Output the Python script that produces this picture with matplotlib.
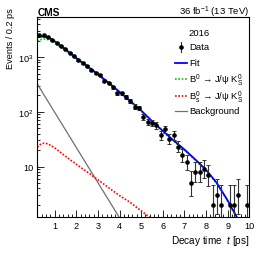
import numpy as np
import matplotlib
matplotlib.use('Agg')
import matplotlib.pyplot as plt
from matplotlib.ticker import MultipleLocator, LogLocator, NullFormatter, FuncFormatter
from matplotlib.lines import Line2D

plt.rcParams['font.family'] = ['Liberation Sans', 'DejaVu Sans']
plt.rcParams['mathtext.fontset'] = 'custom'
plt.rcParams['mathtext.rm'] = 'Liberation Sans'
plt.rcParams['mathtext.it'] = 'Liberation Sans:italic'
plt.rcParams['mathtext.bf'] = 'Liberation Sans:bold'

# ---- data (bin centres, counts per 0.2 ps) ----
t_data = [0.3, 0.5, 0.7, 0.9, 1.1, 1.3, 1.5, 1.7, 1.9, 2.1, 2.3, 2.5, 2.7, 2.9, 3.1,
          3.3, 3.5, 3.7, 3.9, 4.1, 4.3, 4.5, 4.7, 4.9, 5.1, 5.3, 5.5, 5.7, 5.9, 6.1,
          6.3, 6.5, 6.7, 6.9, 7.1, 7.3, 7.5, 7.7, 7.9, 8.1, 8.3, 8.5, 8.7, 9.1, 9.3,
          9.5, 9.9]
counts = [2500, 2500, 2300, 2100, 1820, 1600, 1440, 1217, 1030, 893, 778, 678, 590, 515, 465,
          371, 335, 281, 219, 219, 185, 155, 125, 118, 80, 66, 62, 57, 37, 48,
          32, 37, 23, 16, 12, 5, 8, 8, 9, 7, 2, 3, 2, 2, 2,
          3, 2]

# ---- fit curves ----
fit_t = [0.2, 0.3, 0.4, 0.5, 0.6, 0.8, 1.0, 1.25, 1.5, 2.0, 2.5, 3.0, 3.5, 4.0, 4.5,
         5.0, 5.5, 6.0, 6.5, 7.0, 7.5, 8.0, 8.5, 9.0, 9.5]
fit_v = [2300, 2350, 2380, 2380, 2350, 2200, 1960, 1650, 1400, 965, 690, 490, 340, 232, 157,
         106, 68, 45, 30, 20.5, 13.5, 8.7, 5.0, 2.4, 1.05]
b0_v = [1955, 2046, 2113, 2147, 2144, 2040, 1837, 1560, 1333, 929, 670, 478, 332, 226, 153,
        103, 66, 43.7, 29.2, 19.9, 13.1, 8.4, 4.85, 2.33, 1.02]
bs_t = [0.2, 0.3, 0.4, 0.5, 0.6, 0.7, 0.85, 1.0, 1.25, 1.5, 2.0, 2.5, 3.0, 3.5, 4.0,
        4.5, 5.0, 5.5, 6.0]
bs_v = [22.5, 24.8, 26.2, 26.7, 26.5, 25.8, 24.0, 22.0, 18.5, 15.4, 11.0, 8.0, 5.75, 4.1, 2.95,
        2.2, 1.55, 1.1, 0.8]
bg_t = [0.2, 4.2]
bg_v = [323, 0.86]

# Poisson (Gehrels) error bars
n = np.array(counts, dtype=float)
up = np.sqrt(n + 0.75) + 1.0
lo = n - n * (1 - 1 / (9 * n) - 1 / (3 * np.sqrt(n))) ** 3

fig = plt.figure(figsize=(2.66, 2.55), dpi=100)
ax = fig.add_axes([37.3 / 266, 1 - 217.7 / 255, 212 / 266, 199.7 / 255])

ax.plot(bg_t, bg_v, color='#707070', lw=0.9)
ax.plot(bs_t, bs_v, color='#ff0000', lw=1.2, ls=(0, (1, 1)))
ax.plot(fit_t, b0_v, color='#00cc00', lw=1.2, ls=(0, (1, 1)))
ax.plot(fit_t, fit_v, color='#0000ff', lw=1.3)
ax.errorbar(t_data, counts, yerr=[lo, up], fmt='o', color='black', ms=2.3,
            ecolor='#333333', elinewidth=0.8, capsize=1.2, capthick=0.7)

ax.set_xlim(0.2, 10.0)
ax.set_yscale('log')
ax.set_ylim(1.21, 5430)

ax.xaxis.set_major_locator(MultipleLocator(1))
ax.xaxis.set_minor_locator(MultipleLocator(0.2))
ax.yaxis.set_major_locator(LogLocator(base=10, numticks=10))
ax.yaxis.set_minor_locator(LogLocator(base=10, subs=np.arange(2, 10), numticks=20))
ax.yaxis.set_minor_formatter(NullFormatter())

def yfmt(v, pos):
    e = int(round(np.log10(v)))
    if e == 1:
        return '10'
    return r'$10^{%d}$' % e
ax.yaxis.set_major_formatter(FuncFormatter(yfmt))
ax.xaxis.set_major_formatter(FuncFormatter(lambda v, p: '%d' % round(v)))

ax.tick_params(which='both', direction='in', top=False, right=False, labelsize=6.6,
               width=0.6, colors='black')
ax.tick_params(which='major', length=5, pad=3)
ax.tick_params(which='minor', length=2.5)
for s in ax.spines.values():
    s.set_linewidth(0.8)

ax.set_xlabel(r'Decay time  $\it{t}$ [ps]', fontsize=7.2, ha='right', x=1.0, labelpad=2)
ax.set_ylabel('Events / 0.2 ps', fontsize=6.6, ha='right', y=1.05, labelpad=2)

fig.text(37.3 / 266, 1 - 13 / 255, 'CMS', fontsize=7.3, fontweight='bold', ha='left', va='center')
fig.text(249.5 / 266, 1 - 12.5 / 255, r'36 fb$^{-1}$ (13 TeV)', fontsize=6.8, ha='right', va='center')

# legend
def axx(px):
    return (px - 37.3) / 212.0
def axy(py):
    return (217.7 - py) / 199.7

ax.text(axx(199), axy(33), '2016', fontsize=6.8, ha='center', va='center', transform=ax.transAxes)
entries = [
    (48, 'Data', None),
    (64, 'Fit', dict(color='#0000ff', lw=1.3)),
    (80, r'B$^0$ → J/ψ K$^0_\mathrm{S}$', dict(color='#00cc00', lw=1.2, ls=(0, (1, 1)))),
    (97, r'B$^0_\mathrm{s}$ → J/ψ K$^0_\mathrm{S}$', dict(color='#ff0000', lw=1.2, ls=(0, (1, 1)))),
    (112, 'Background', dict(color='#707070', lw=0.9)),
]
for py, label, style in entries:
    if style is None:
        ax.add_line(Line2D([axx(180.7)] * 2, [axy(py - 5), axy(py + 5)], color='#333333', lw=0.8,
                           transform=ax.transAxes))
        ax.add_line(Line2D([axx(180.7)], [axy(py)], marker='o', ms=2.3, color='black',
                           transform=ax.transAxes))
    else:
        ax.add_line(Line2D([axx(175), axx(186.5)], [axy(py), axy(py)], transform=ax.transAxes, **style))
    ax.text(axx(189), axy(py), label, fontsize=6.8, ha='left', va='center', transform=ax.transAxes)

fig.savefig('out.png', dpi=100)
